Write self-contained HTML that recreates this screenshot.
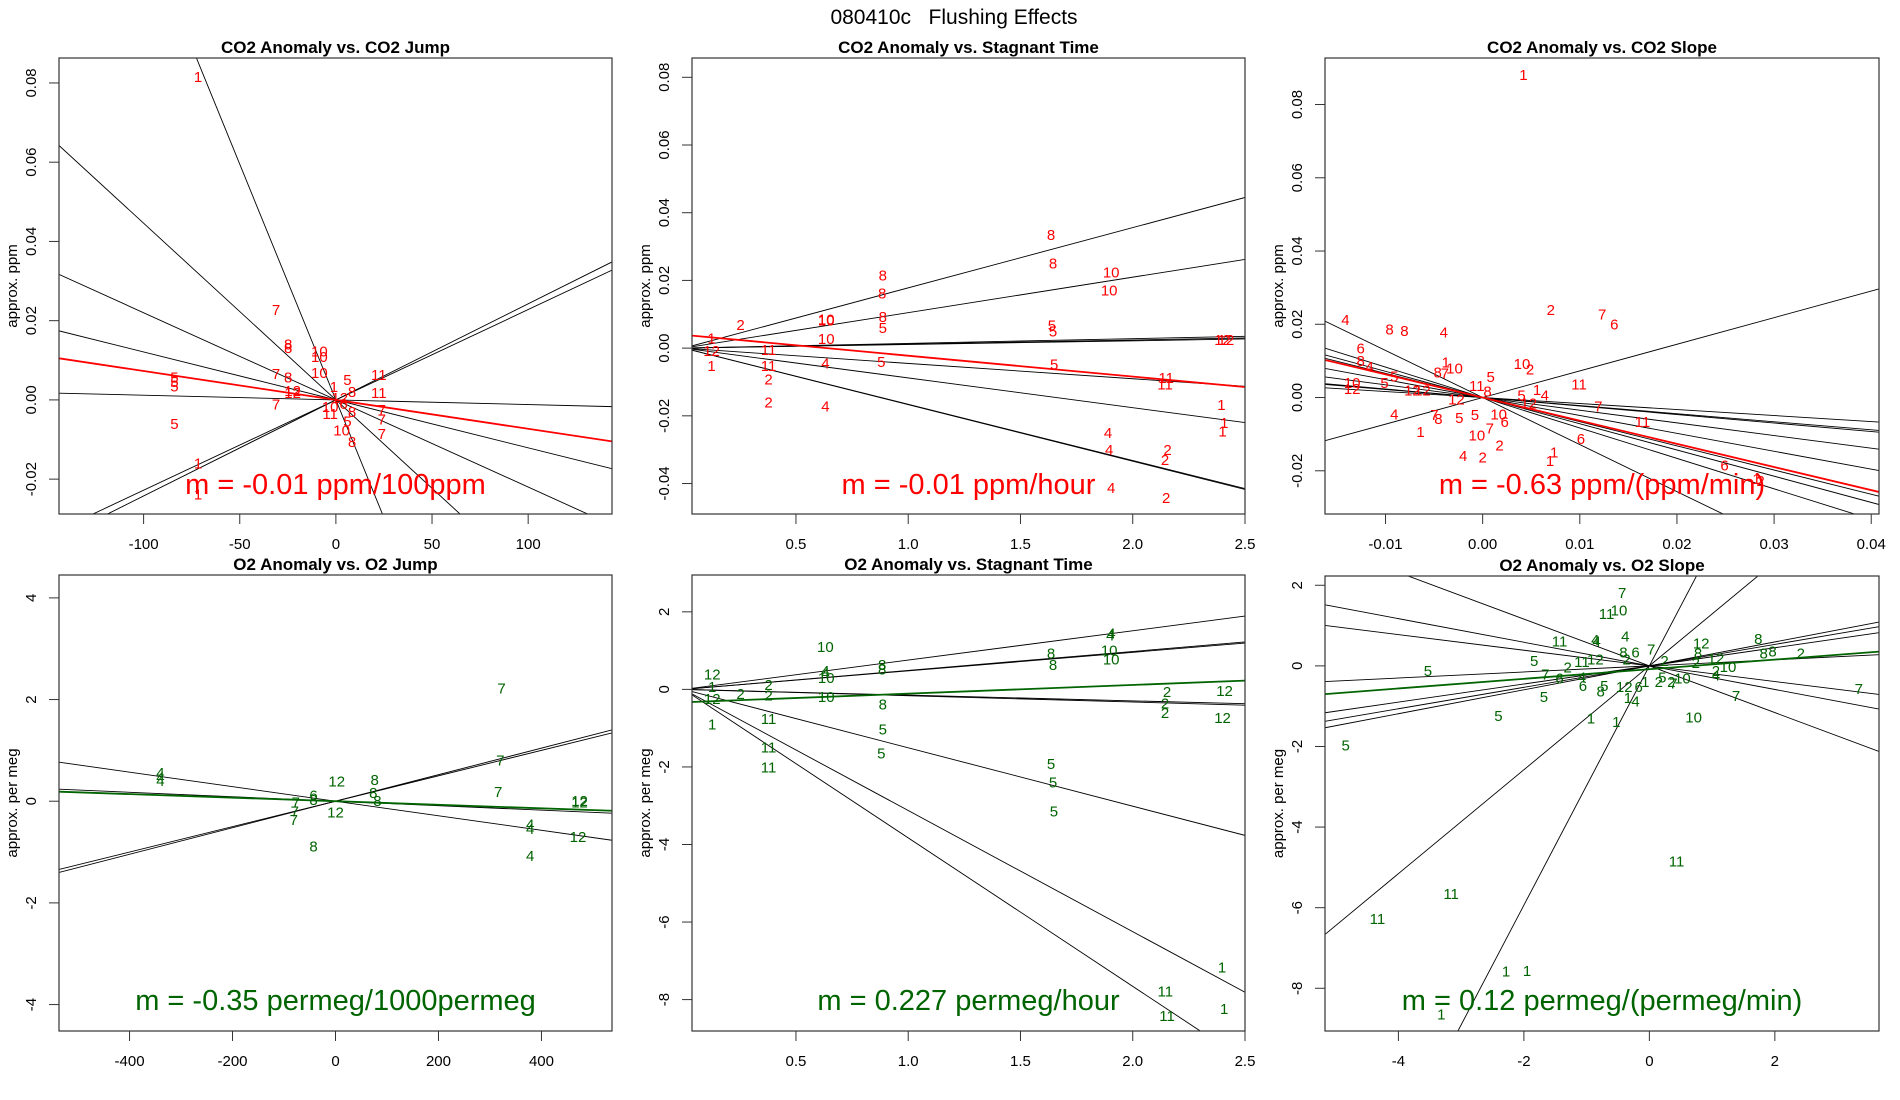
<!DOCTYPE html>
<html><head><meta charset="utf-8"><style>
html,body{margin:0;padding:0;background:#fff;width:1900px;height:1100px;overflow:hidden;}
svg{display:block;font-family:"Liberation Sans",sans-serif;}
</style></head><body>
<svg id="fig" width="1900" height="1100" viewBox="0 0 1900 1100">
<text x="954" y="24" font-size="21" text-anchor="middle" fill="#000">080410c&#160;&#160;&#160;Flushing Effects</text>
</svg>
<script>
// ---- Panel 1: CO2 Anomaly vs CO2 Jump
const p1Labels = ["1","7","8","8","10","10","10","7","8","12","12","5","5","5","5","7","1","1","11","11","5","8","7","7","7","5","10","8","1","10","11","12","6","8"];
const p1X = [-71.7,-31.1,-24.8,-24.8,-8.6,-8.6,-8.6,-31.1,-24.8,-22.5,-22.5,-84,-84,-84,-84,-31.1,-71.7,-71.7,22.3,22.3,6,8.4,23.9,23.9,23.9,6,3,8.4,-1,-3,-3,2,4,8.4];
const p1Y = [0.0815,0.0227,0.014,0.0131,0.0122,0.0108,0.0068,0.0065,0.0056,0.0023,0.0018,0.0056,0.0045,0.0034,-0.0061,-0.0012,-0.016,-0.0239,0.0063,0.0018,0.005,0.002,-0.0025,-0.005,-0.0086,-0.0054,-0.0077,-0.0106,0.0032,-0.0018,-0.0036,0.0005,-0.001,-0.003];
const p1Slopes = [-0.00119,-0.000446,-0.00022,-0.000121,-0.0000118,0.0002425,0.000228];
const p1Fit = [-0.0000729, 0];
const p1XTicks = [-100,-50,0,50,100];
const p1XTickLabels = ["-100","-50","0","50","100"];
const p1YTicks = [-0.02,0,0.02,0.04,0.06,0.08];
const p1YTickLabels = ["-0.02","0.00","0.02","0.04","0.06","0.08"];

// ---- Panel 2: CO2 Anomaly vs Stagnant Time
const p2Labels = ["8","8","10","10","8","8","8","5","10","10","10","2","5","5","5","5","4","11","11","2","2","4","1","1","12","12","12","11","11","1","1","1","4","4","4","2","2","2"];
const p2X = [1.636,1.645,1.904,1.895,0.887,0.884,0.887,0.887,0.635,0.635,0.635,0.253,1.64,1.645,1.65,0.88,0.631,0.378,0.378,0.378,0.378,0.631,0.124,0.124,0.124,2.40,2.415,2.149,2.144,2.395,2.408,2.40,1.89,1.895,1.904,2.155,2.144,2.149];
const p2Y = [0.0334,0.025,0.0224,0.017,0.0215,0.0162,0.0092,0.006,0.0085,0.0082,0.0027,0.0069,0.0067,0.0049,-0.0048,-0.0041,-0.0045,-0.0006,-0.0053,-0.0093,-0.0161,-0.0173,0.0029,-0.0053,-0.0008,0.0024,0.0024,-0.0088,-0.0108,-0.0168,-0.0221,-0.0246,-0.025,-0.0301,-0.0413,-0.0301,-0.033,-0.0443];
const p2Slopes = [0.0178,0.01048,0.0014,0.0012,0.00108,-0.00452,-0.0088,-0.0167,-0.0166];
const p2Fit = [-0.00617, 0.00393];
const p2XTicks = [0.5,1,1.5,2,2.5];
const p2XTickLabels = ["0.5","1.0","1.5","2.0","2.5"];
const p2YTicks = [-0.04,-0.02,0,0.02,0.04,0.06,0.08];
const p2YTickLabels = ["-0.04","-0.02","0.00","0.02","0.04","0.06","0.08"];

// ---- Panel 3: CO2 Anomaly vs CO2 Slope
const p3Labels = ["1","2","7","6","4","8","8","4","6","8","4","5","5","10","12","1","8","7","10","10","2","5","11","8","11","12","12","12","1","4","5","12","7","11","4","7","8","5","5","10","6","1","10","7","2","4","2","1","1","6","6","1","2"];
const p3X = [0.0042,0.00702,0.0123,0.01355,-0.01413,-0.00959,-0.00806,-0.004,-0.01256,-0.01256,-0.01165,-0.00909,-0.0101,-0.01343,-0.01343,-0.0038,-0.00463,-0.0039,-0.0029,0.00405,0.00488,0.00083,-0.0006,0.0005,0.00992,-0.00723,-0.0062,-0.0027,0.0056,0.0064,0.004,0.00475,0.0119,0.01645,-0.00909,-0.00496,-0.00455,-0.0024,-0.0008,0.00165,0.00227,-0.0064,-0.0006,0.00074,0.00174,-0.002,0,0.00736,0.00694,0.01012,0.0249,0.0282,0.0286];
const p3Y = [0.0881,0.0239,0.0227,0.0199,0.0211,0.0186,0.0181,0.0177,0.0134,0.01,0.0083,0.0058,0.004,0.004,0.0023,0.0095,0.0068,0.0065,0.0079,0.0091,0.0077,0.0056,0.0032,0.0017,0.0035,0.0019,0.0019,-0.0006,0.0021,0.0005,0.0005,-0.0016,-0.0025,-0.0067,-0.0046,-0.0048,-0.0059,-0.0056,-0.0048,-0.0046,-0.0067,-0.0094,-0.0104,-0.0085,-0.0131,-0.0159,-0.0164,-0.015,-0.0173,-0.0113,-0.0185,-0.0222,-0.0228];
const p3Slopes = [0.727,-1.285,-0.164,-0.2205,-0.232,-0.346,-0.489,-0.66,-0.716,-0.831];
const p3Fit = [-0.632, 0];
const p3XTicks = [-0.01,0,0.01,0.02,0.03,0.04];
const p3XTickLabels = ["-0.01","0.00","0.01","0.02","0.03","0.04"];
const p3YTicks = [-0.02,0,0.02,0.04,0.06,0.08];
const p3YTickLabels = ["-0.02","0.00","0.02","0.04","0.06","0.08"];

// ---- Panel 4: O2 Anomaly vs O2 Jump
const p4Labels = ["4","4","4","7","7","7","12","12","8","8","8","6","8","7","7","7","8","4","4","4","12","12","12"];
const p4X = [-340,-340,-340,322.5,320,316,2.4,0,76,73.5,81.4,-42.7,-42.7,-77,-79,-81,-42.7,378,378,378,474,474,471];
const p4Y = [0.559,0.469,0.4,2.214,0.8,0.179,0.386,-0.22,0.42,0.159,0.007,0.11,0.028,-0.03,-0.2,-0.37,-0.89,-0.455,-0.545,-1.08,-0.03,0.007,-0.703];
const p4Slopes = [0.00261,0.0025,-0.00143,-0.00044];
const p4Fit = [-0.00035, 0];
const p4XTicks = [-400,-200,0,200,400];
const p4XTickLabels = ["-400","-200","0","200","400"];
const p4YTicks = [-4,-2,0,2,4];
const p4YTickLabels = ["-4","-2","0","2","4"];

// ---- Panel 5: O2 Anomaly vs Stagnant Time
const p5Labels = ["10","10","10","4","4","8","8","8","5","5","11","11","11","12","1","12","1","2","2","2","8","8","4","4","10","10","5","5","5","2","2","2","12","12","1","1","11","11"];
const p5X = [0.631,0.635,0.635,0.631,0.631,0.884,0.884,0.887,0.887,0.88,0.378,0.378,0.378,0.127,0.127,0.127,0.127,0.253,0.378,0.378,1.636,1.645,1.905,1.9,1.895,1.904,1.636,1.645,1.649,2.153,2.144,2.144,2.409,2.4,2.398,2.407,2.145,2.153];
const p5Y = [1.095,0.29,-0.19,0.47,0.41,0.624,0.516,-0.39,-1.04,-1.656,-0.77,-1.493,-2.018,0.38,0.063,-0.253,-0.905,-0.118,0.109,-0.163,0.923,0.633,1.439,1.39,1.0,0.77,-1.928,-2.398,-3.149,-0.072,-0.362,-0.615,-0.045,-0.733,-7.176,-8.244,-7.792,-8.425];
const p5Slopes = [0.756,0.489,0.478,-0.148,-0.163,-1.506,-3.124,-3.829];
const p5Fit = [0.224, -0.334];
const p5XTicks = [0.5,1,1.5,2,2.5];
const p5XTickLabels = ["0.5","1.0","1.5","2.0","2.5"];
const p5YTicks = [-8,-6,-4,-2,0,2];
const p5YTickLabels = ["-8","-6","-4","-2","0","2"];

// ---- Panel 6: O2 Anomaly vs O2 Slope
const p6Labels = ["7","11","10","11","4","4","4","8","6","7","2","12","8","12","2","8","8","8","2","7","5","5","5","5","5","11","12","2","7","6","4","6","5","8","12","6","1","4","1","2","5","2","2","7","10","2","10","4","7","10","1","1","11","11","11","1","1","1"];
const p6X = [-0.434,-0.683,-0.484,-1.431,-0.861,-0.84,-0.384,-0.413,-0.221,0.028,-0.363,0.826,0.776,1.06,0.74,1.737,1.822,1.964,2.413,3.338,-1.836,-3.53,-1.68,-2.406,-4.84,-1.075,-0.861,-1.302,-1.658,-1.431,-1.075,-1.06,-0.719,-0.776,-0.4,-0.17,-0.342,-0.221,-0.064,0.242,0.206,0.15,0.35,0.384,0.527,1.06,1.253,1.06,1.381,0.705,-0.932,-0.527,0.434,-3.16,-4.335,-2.285,-1.95,-3.317];
const p6Y = [1.814,1.292,1.372,0.602,0.646,0.6,0.735,0.336,0.336,0.407,0.159,0.558,0.31,0.177,0.07,0.664,0.31,0.354,0.31,-0.575,0.115,-0.133,-0.77,-1.239,-1.982,0.097,0.159,-0.035,-0.212,-0.31,-0.283,-0.504,-0.504,-0.637,-0.522,-0.522,-0.797,-0.885,-0.398,0.115,-0.283,-0.398,-0.4,-0.442,-0.31,-0.133,-0.027,-0.239,-0.743,-1.283,-1.301,-1.389,-4.858,-5.655,-6.283,-7.584,-7.566,-8.646];
const p6Slopes = [2.969,1.289,-0.58,-0.293,-0.194,0.0755,0.297,0.266,0.225];
const p6Fit = [0.1195, -0.083];
const p6XTicks = [-4,-2,0,2];
const p6XTickLabels = ["-4","-2","0","2"];
const p6YTicks = [-8,-6,-4,-2,0,2];
const p6YTickLabels = ["-8","-6","-4","-2","0","2"];

const NS = "http://www.w3.org/2000/svg";
const svg = document.getElementById("fig");
function mk(tag, attrs, parent){ const e=document.createElementNS(NS,tag); for(const k in attrs) e.setAttribute(k,attrs[k]); (parent||svg).appendChild(e); return e; }

const RED="#ff0000", GREEN="#006400";
const panels = [
 {id:"p1", title:"CO2 Anomaly vs. CO2 Jump", ylab:"approx. ppm", L:59,R:612,T:58,B:514, xmin:-144,xmax:143.6,ymin:-0.0288,ymax:0.0863,
  labels:p1Labels,xs:p1X,ys:p1Y,slopes:p1Slopes,fit:p1Fit,xt:p1XTicks,xtl:p1XTickLabels,yt:p1YTicks,ytl:p1YTickLabels,col:RED,m:"m = -0.01 ppm/100ppm",my:494},
 {id:"p2", title:"CO2 Anomaly vs. Stagnant Time", ylab:"approx. ppm", L:692,R:1245,T:58,B:514, xmin:0.037,xmax:2.5,ymin:-0.049,ymax:0.0857,
  labels:p2Labels,xs:p2X,ys:p2Y,slopes:p2Slopes,fit:p2Fit,xt:p2XTicks,xtl:p2XTickLabels,yt:p2YTicks,ytl:p2YTickLabels,col:RED,m:"m = -0.01 ppm/hour",my:494},
 {id:"p3", title:"CO2 Anomaly vs. CO2 Slope", ylab:"approx. ppm", L:1325,R:1879,T:58,B:514, xmin:-0.01623,xmax:0.0408,ymin:-0.0318,ymax:0.0927,
  labels:p3Labels,xs:p3X,ys:p3Y,slopes:p3Slopes,fit:p3Fit,xt:p3XTicks,xtl:p3XTickLabels,yt:p3YTicks,ytl:p3YTickLabels,col:RED,m:"m = -0.63 ppm/(ppm/min)",my:494},
 {id:"p4", title:"O2 Anomaly vs. O2 Jump", ylab:"approx. per meg", L:59,R:612,T:575,B:1031, xmin:-537,xmax:537,ymin:-4.52,ymax:4.45,
  labels:p4Labels,xs:p4X,ys:p4Y,slopes:p4Slopes,fit:p4Fit,xt:p4XTicks,xtl:p4XTickLabels,yt:p4YTicks,ytl:p4YTickLabels,col:GREEN,m:"m = -0.35 permeg/1000permeg",my:1010},
 {id:"p5", title:"O2 Anomaly vs. Stagnant Time", ylab:"approx. per meg", L:692,R:1245,T:575,B:1031, xmin:0.037,xmax:2.5,ymin:-8.81,ymax:2.95,
  labels:p5Labels,xs:p5X,ys:p5Y,slopes:p5Slopes,fit:p5Fit,xt:p5XTicks,xtl:p5XTickLabels,yt:p5YTicks,ytl:p5YTickLabels,col:GREEN,m:"m = 0.227 permeg/hour",my:1010},
 {id:"p6", title:"O2 Anomaly vs. O2 Slope", ylab:"approx. per meg", L:1325,R:1879,T:576,B:1031, xmin:-5.17,xmax:3.66,ymin:-9.06,ymax:2.23,
  labels:p6Labels,xs:p6X,ys:p6Y,slopes:p6Slopes,fit:p6Fit,xt:p6XTicks,xtl:p6XTickLabels,yt:p6YTicks,ytl:p6YTickLabels,col:GREEN,m:"m = 0.12 permeg/(permeg/min)",my:1010}
];

panels.forEach(function(p){
  const sx = v => p.L + (v - p.xmin) / (p.xmax - p.xmin) * (p.R - p.L);
  const sy = v => p.B - (v - p.ymin) / (p.ymax - p.ymin) * (p.B - p.T);
  const g = mk("g", {});
  
  
  const cp = mk("clipPath", {id:"clip-"+p.id}, g);
  mk("rect", {x:p.L, y:p.T, width:p.R-p.L, height:p.B-p.T}, cp);

  const t = mk("text", {x:(p.L+p.R)/2, y:p.T-5, "font-size":17, "font-weight":"bold", "text-anchor":"middle"}, g);
  t.textContent = p.title;
  
  

  const yl = mk("text", {x:0, y:0, "font-size":15, "text-anchor":"middle", transform:"translate("+(p.L-42)+","+((p.T+p.B)/2)+") rotate(-90)"}, g);
  yl.textContent = p.ylab;
  
  

  const xa = mk("g", {stroke:"#333", "stroke-width":1}, g);
  
  
  mk("line", {x1:sx(p.xt[0]), x2:sx(p.xt[p.xt.length-1]), y1:p.B, y2:p.B}, xa);
  p.xt.forEach(function(v,i){
    mk("line", {x1:sx(v), x2:sx(v), y1:p.B, y2:p.B+10}, xa);
    const tl = mk("text", {x:sx(v), y:p.B+35, "font-size":15, "text-anchor":"middle", stroke:"none", fill:"#000"}, xa);
    tl.textContent = p.xtl[i];
    
    
  });
  const ya = mk("g", {stroke:"#333", "stroke-width":1}, g);
  
  
  mk("line", {x1:p.L, x2:p.L, y1:sy(p.yt[0]), y2:sy(p.yt[p.yt.length-1])}, ya);
  p.yt.forEach(function(v,i){
    mk("line", {x1:p.L-10, x2:p.L, y1:sy(v), y2:sy(v)}, ya);
    const tl = mk("text", {x:0, y:0, "font-size":15, "text-anchor":"middle", stroke:"none", fill:"#000", transform:"translate("+(p.L-23)+","+sy(v)+") rotate(-90)"}, ya);
    tl.textContent = p.ytl[i];
    
    
  });

  const plot = mk("g", {"clip-path":"url(#clip-"+p.id+")"}, g);
  
  
  p.slopes.forEach(function(m){
    const ln = mk("line", {x1:sx(p.xmin), y1:sy(m*p.xmin), x2:sx(p.xmax), y2:sy(m*p.xmax), stroke:"#000", "stroke-width":0.9}, plot);
    
    
  });
  const fl = mk("line", {x1:sx(p.xmin), y1:sy(p.fit[0]*p.xmin+p.fit[1]), x2:sx(p.xmax), y2:sy(p.fit[0]*p.xmax+p.fit[1]), stroke:p.col, "stroke-width":1.8}, plot);
  
  
  p.labels.forEach(function(lab,i){
    const pt = mk("text", {x:sx(p.xs[i]), y:sy(p.ys[i])+5, "font-size":15, "text-anchor":"middle", fill:p.col}, plot);
    pt.textContent = lab;
    
    
  });
  const mt = mk("text", {x:(p.L+p.R)/2, y:p.my, "font-size":29, "text-anchor":"middle", fill:p.col}, g);
  mt.textContent = p.m;
  
  

  const box = mk("rect", {x:p.L, y:p.T, width:p.R-p.L, height:p.B-p.T, fill:"none", stroke:"#333", "stroke-width":1.2}, g);
  
  
});
</script>
</body></html>
